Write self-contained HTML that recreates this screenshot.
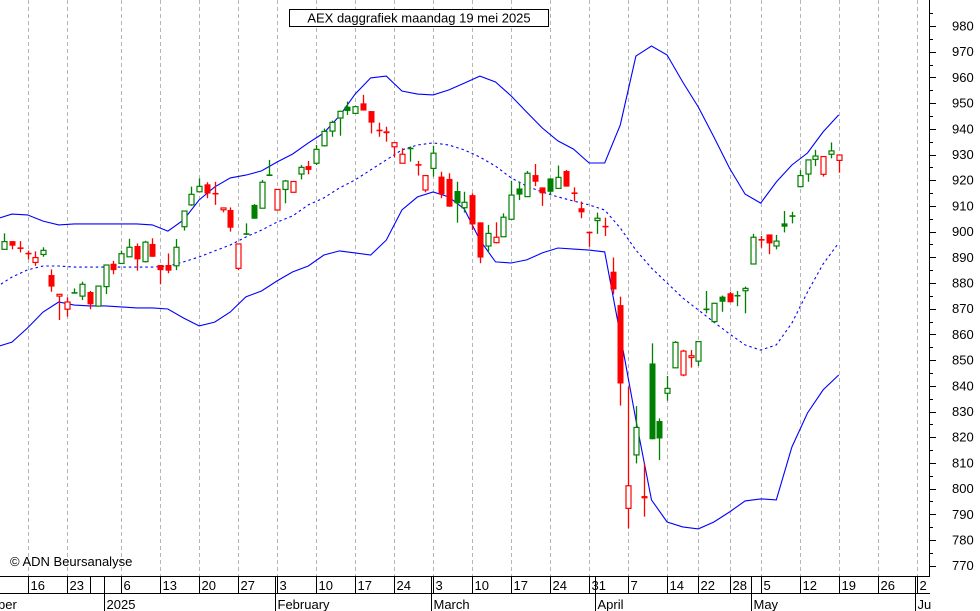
<!DOCTYPE html>
<html><head><meta charset="utf-8"><style>
html,body{margin:0;padding:0;background:#fff;}
svg{display:block;font-family:"Liberation Sans",sans-serif;}
</style></head><body>
<svg id="chart" width="980" height="611" viewBox="0 0 980 611" xmlns="http://www.w3.org/2000/svg">
<rect x="0" y="0" width="980" height="611" fill="#fff"/>
<g id="grid"></g>
<g id="bands"></g>
<g id="candles"></g>
<g id="yaxis"></g>
<g id="xaxis"></g>
<g>
<rect x="289.5" y="9.5" width="259" height="17" fill="#fff" stroke="#000" stroke-width="1"/>
<text x="419" y="22.5" font-size="13" text-anchor="middle" fill="#000">AEX daggrafiek maandag 19 mei 2025</text>
</g>
<text x="10" y="566" font-size="13" fill="#000">© ADN Beursanalyse</text>
</svg>
<script>
// ---- data (trading-day index starts at -3 = 11 Dec 2024) ----
const firstIndex = -3;
const opens = [893.1,896.3,893.6,891.5,888.0,891.1,883.1,874.9,869.8,876.1,874.9,876.5,871.0,878.6,887.5,887.6,890.2,894.4,888.3,895.2,887.0,887.0,886.7,901.9,910.4,915.5,918.4,914.8,908.5,908.4,885.7,899.0,910.4,909.1,921.9,908.4,916.4,915.3,922.4,925.5,926.6,933.4,939.1,944.2,948.6,946.0,949.9,946.9,939.4,939.0,933.0,926.6,932.3,926.0,916.2,924.6,921.4,920.5,915.8,909.3,914.2,903.6,894.4,895.7,898.0,904.8,916.8,913.6,922.0,917.2,920.7,916.8,923.6,915.0,909.1,899.7,904.3,902.0,884.4,871.4,792.3,813.1,797.1,848.7,826.3,837.1,847.0,844.2,851.0,849.6,869.7,865.0,874.7,876.0,875.0,877.0,887.4,896.9,898.9,894.4,903.2,906.0,917.5,922.4,928.1,922.3,930.1,927.7];
const highs = [899.3,896.3,896.3,892.6,892.3,893.9,885.3,875.6,874.4,877.9,880.5,876.9,879.0,887.2,888.6,892.6,897.2,895.4,896.4,897.4,887.0,891.5,897.1,908.0,917.5,920.7,919.2,919.4,909.4,909.4,895.2,903.2,910.7,920.1,927.9,916.4,920.1,919.7,925.9,927.5,933.7,940.1,943.2,947.0,950.6,949.0,953.2,946.9,942.4,940.8,934.6,932.4,933.1,927.5,921.8,933.4,923.3,922.7,919.4,915.5,914.9,903.6,902.6,903.6,907.1,919.8,919.4,923.6,926.3,917.2,920.7,925.7,924.0,917.2,911.7,899.7,907.4,905.4,889.9,874.7,839.7,832.1,809.8,856.5,827.3,843.8,857.4,854.0,853.9,857.2,876.9,872.3,875.1,876.6,876.9,878.6,899.1,898.3,898.9,898.7,908.0,907.7,923.9,927.9,931.8,929.4,934.7,929.8];
const lows = [893.1,893.1,891.9,889.2,886.7,890.2,876.6,865.6,866.9,876.0,873.4,869.8,870.8,875.7,883.4,887.5,890.2,884.8,888.0,890.2,879.5,883.8,885.0,900.4,910.0,915.5,913.0,910.4,907.5,900.0,885.0,898.7,905.0,909.1,921.6,908.4,911.0,915.3,920.3,922.3,925.9,933.1,936.9,937.3,945.4,946.0,947.1,938.2,936.9,935.0,928.9,926.6,927.2,921.8,915.3,921.4,913.0,909.7,903.5,907.4,900.6,887.7,891.8,895.4,898.0,904.8,912.3,913.6,917.7,910.0,914.2,916.8,917.5,911.7,905.2,894.1,899.1,898.3,875.6,832.3,784.5,809.8,789.1,819.2,811.1,834.2,847.0,843.7,847.1,847.7,868.2,864.6,868.8,872.5,871.0,868.2,887.4,893.7,891.2,893.1,899.7,903.2,917.2,919.4,925.5,921.4,928.5,922.9];
const closes = [896.1,894.5,893.5,891.4,889.9,892.7,878.6,875.6,872.6,876.2,879.5,871.7,878.8,887.0,885.0,891.4,893.9,889.2,895.9,890.2,885.0,884.8,893.9,908.0,914.5,917.6,914.8,914.7,909.2,901.5,895.2,899.1,905.0,919.2,922.0,916.4,919.7,919.5,925.0,924.0,932.0,939.0,942.5,946.8,946.9,948.6,947.1,942.4,939.3,938.3,934.6,930.1,932.4,925.9,921.8,930.5,914.5,909.7,911.0,911.4,902.8,889.9,899.3,897.8,905.6,914.2,914.4,922.7,919.4,914.9,915.5,921.1,917.5,914.9,907.5,899.6,905.2,901.9,877.5,840.9,801.1,823.8,796.2,819.2,819.5,839.0,856.9,853.5,851.7,857.2,869.8,872.1,872.7,872.5,875.1,877.9,897.8,896.7,895.4,896.3,901.9,906.1,921.8,927.9,929.4,929.2,931.4,929.8];
// Bollinger bands sampled every 2 trading days, starting at index -4
const bandFirstIndex = -4;
const upperBand = [904.9,906.8,906.5,904.1,902.6,903.0,903.0,903.0,903.0,903.0,902.6,900.2,904.5,912.3,917.4,920.9,922.0,923.6,927.1,930.2,934.5,938.4,945.0,953.5,959.8,960.5,954.7,953.5,953.2,955.1,957.8,960.5,958.2,952.8,946.5,940.3,935.3,932.1,926.7,926.7,941.5,968.3,972.2,968.7,958.2,948.5,936.8,924.7,914.6,911.1,919.3,925.9,930.6,938.8,945.4];
const middleBand = [878.4,882.3,885.1,886.6,886.6,886.2,886.2,886.2,886.2,886.2,886.2,886.6,888.2,890.1,892.5,894.8,897.9,900.6,903.7,906.1,910.4,913.1,917.0,920.1,924.0,927.9,931.8,933.7,934.5,933.7,931.8,929.0,925.5,920.9,917.7,915.4,913.5,911.9,910.4,908.4,901.4,892.8,885.8,880.0,874.2,869.5,864.8,860.2,855.9,853.9,855.9,864.4,876.5,887.4,895.6];
const lowerBand = [855.1,857.0,862.5,868.7,872.6,871.4,871.1,871.1,870.7,870.3,870.3,869.9,866.4,863.3,864.8,868.7,874.6,876.9,880.8,884.3,886.6,890.9,892.5,891.7,890.9,896.7,908.4,913.5,915.4,913.5,908.8,896.7,888.2,887.8,889.0,891.7,893.6,893.2,892.8,892.1,859.8,826.7,795.6,787.0,785.1,784.3,787.0,790.9,795.2,796.0,795.6,816.2,829.4,838.4,844.2];
const yTicks = [770,780,790,800,810,820,830,840,850,860,870,880,890,900,910,920,930,940,950,960,970,980];
// week labels: trading-day index of each Monday and its printed day
const weekIdx = [0,5,8,12,17,22,27,32,37,42,47,52,57,62,67,72,77,82,86,90,94,99,104,109,114];
const weekLabels = ["16","23","","6","13","20","27","3","10","17","24","3","10","17","24","31","7","14","22","28","5","12","19","26","2"];
const monthIdx = [10,32,52,73,93,114];
const monthLabels = ["2025","February","March","April","May","Ju"];

// ---- axes ----
const PR = 929, PB = 576;
function xs(i){ return 27.5 + 7.8*i; }
function ys(v){ return 26 + (980 - v)*2.57; }
const NS = "http://www.w3.org/2000/svg";
function mk(tag, attrs, parent){ const e=document.createElementNS(NS,tag); for(const k in attrs) e.setAttribute(k,attrs[k]); parent.appendChild(e); return e; }

const grid = document.getElementById('grid');
weekIdx.forEach((wi,k)=>{
  if(weekLabels[k]==="") return;
  const x = Math.round(xs(wi))+0.5;
  if(x>=PR) return;
  const l = mk('line',{x1:x,y1:0,x2:x,y2:PB,stroke:'#b4b4b4','stroke-width':1,'stroke-dasharray':'4,3'},grid);
  
  
});

// bands
const bands = document.getElementById('bands');
function bandPath(arr, dash, name){
  let d='';
  arr.forEach((v,k)=>{ const x=xs(bandFirstIndex+2*k), y=ys(v); d+=(k?'L':'M')+x.toFixed(1)+','+y.toFixed(1); });
  const p = mk('path',{d:d,fill:'none',stroke:'#0000ff','stroke-width':1.1},bands);
  if(dash) p.setAttribute('stroke-dasharray','2.5,3');
  
  
}
bandPath(upperBand,false,'upper-band');
bandPath(middleBand,true,'middle-band');
bandPath(lowerBand,false,'lower-band');

// candles
const cg = document.getElementById('candles');
closes.forEach((c,k)=>{
  const i = firstIndex+k, o=opens[k], h=highs[k], l=lows[k];
  const prev = k>0 ? closes[k-1] : o;
  const col = c>=prev ? '#008000' : '#ff0000';
  const x = Math.round(xs(i))+0.5;
  const g = mk('g',{},cg);
  
  
  mk('line',{x1:x,y1:ys(h),x2:x,y2:ys(l),stroke:col,'stroke-width':1.3},g);
  const top = ys(Math.max(o,c)), bot = ys(Math.min(o,c));
  if(bot-top < 1.2){
    mk('line',{x1:x-3,y1:(top+bot)/2,x2:x+3,y2:(top+bot)/2,stroke:col,'stroke-width':1.6},g);
  } else if(c>o){
    mk('rect',{x:x-2.5,y:top,width:5,height:bot-top,fill:'#fff',stroke:col,'stroke-width':1.2},g);
  } else {
    mk('rect',{x:x-3,y:top,width:6,height:bot-top,fill:col,stroke:'none'},g);
  }
});

// y axis
const ya = document.getElementById('yaxis');
mk('line',{x1:PR+0.5,y1:0,x2:PR+0.5,y2:PB,stroke:'#000','stroke-width':1},ya);
for(let v=765; v<=985; v+=5){
  const y = Math.round(ys(v))+0.5;
  if(y<0||y>PB) continue;
  const major = v%10===0;
  const t = mk('line',{x1:PR,y1:y,x2:PR+(major?7:4),y2:y,stroke:'#000','stroke-width':1},ya);
  
  
}
yTicks.forEach(v=>{
  const t = mk('text',{x:952,y:ys(v)+4.5,'font-size':13,fill:'#000'},ya);
  t.textContent = v;
  
  
});

// x axis
const xa = document.getElementById('xaxis');
mk('line',{x1:0,y1:PB+0.5,x2:PR+1,y2:PB+0.5,stroke:'#000','stroke-width':1},xa);
mk('line',{x1:0,y1:593.5,x2:PR+1,y2:593.5,stroke:'#000','stroke-width':1},xa);
weekIdx.forEach((wi,k)=>{
  const x = Math.round(xs(wi))+0.5;
  if(x>=PR) return;
  mk('line',{x1:x,y1:PB,x2:x,y2:593,stroke:'#000','stroke-width':1},xa);
  const t = mk('text',{x:x+2,y:590,'font-size':13,fill:'#000'},xa);
  t.textContent = weekLabels[k];
  
  
});
mk('text',{x:-2,y:609,'font-size':13,fill:'#000'},xa).textContent='ber';
monthIdx.forEach((mi,k)=>{
  const x = Math.round(xs(mi))-1.5;
  mk('line',{x1:x,y1:PB,x2:x,y2:611,stroke:'#000','stroke-width':1},xa);
  const t = mk('text',{x:x+2,y:609,'font-size':13,fill:'#000'},xa);
  t.textContent = monthLabels[k];
  
  
});
</script>
</body></html>
